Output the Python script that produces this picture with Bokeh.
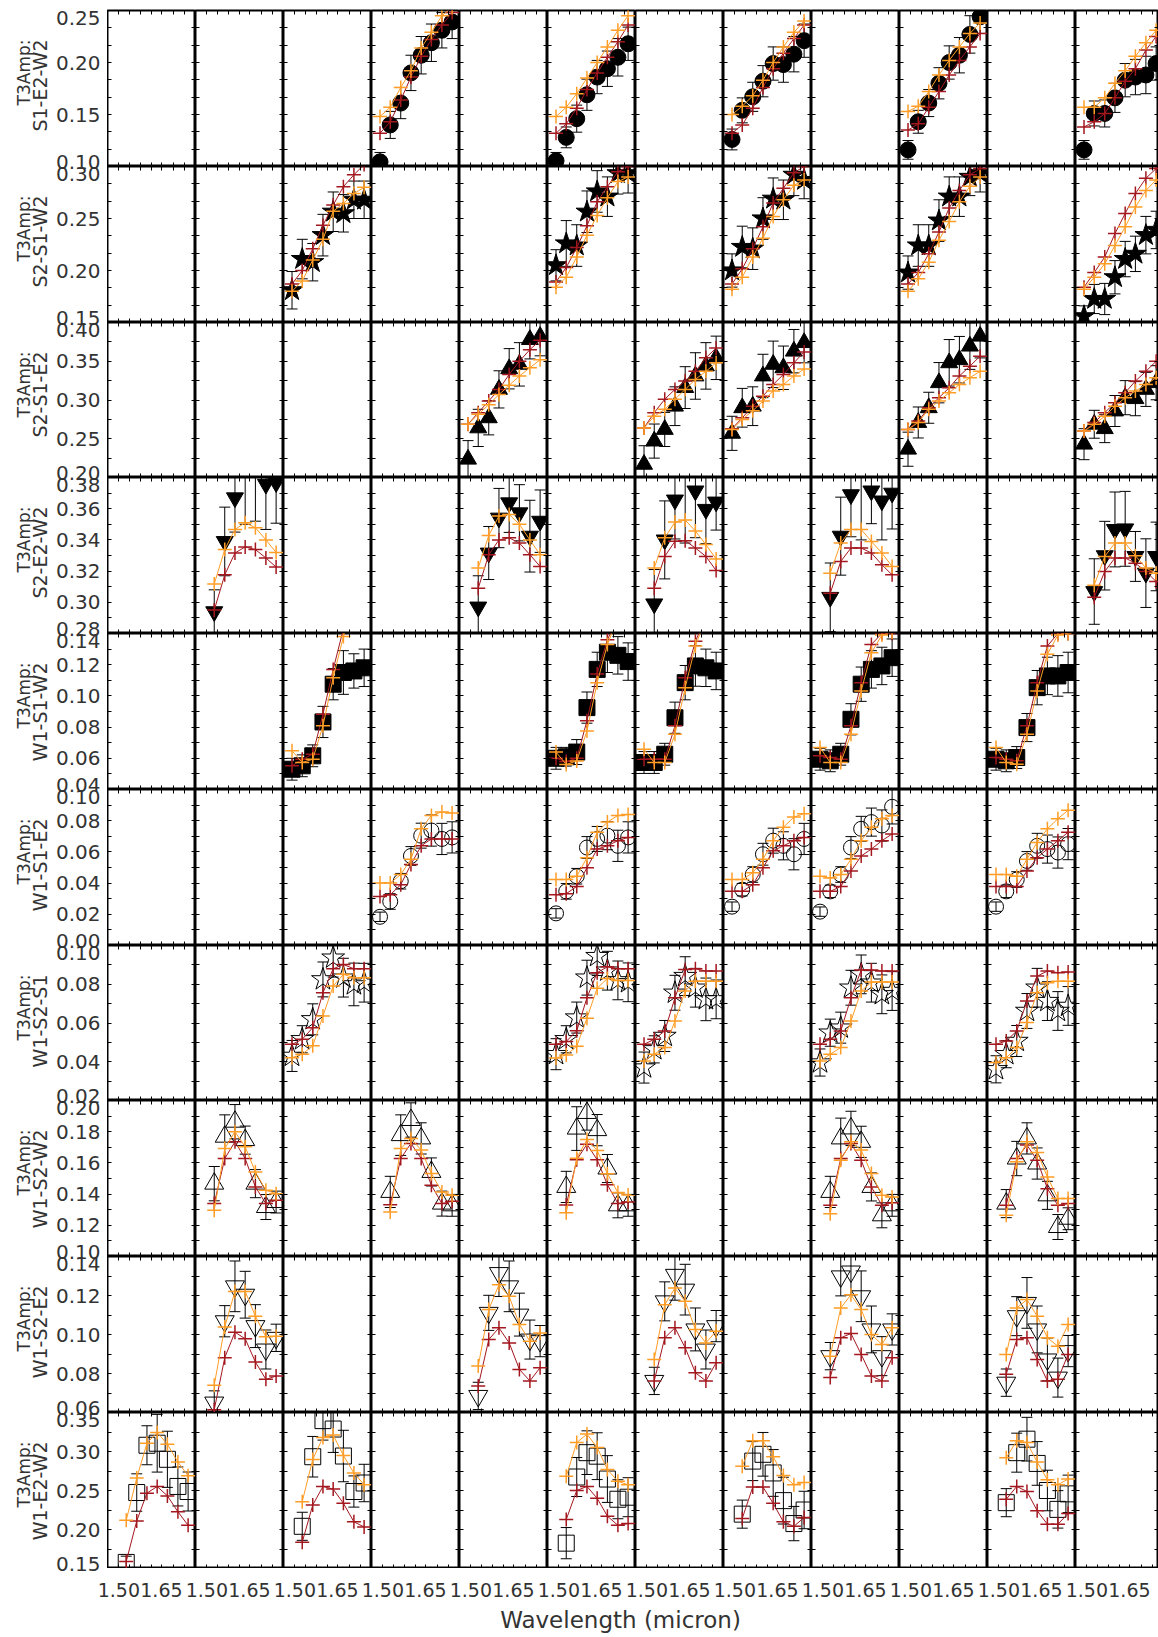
import math
from bokeh.plotting import figure
from bokeh.layouts import gridplot, column, row
from bokeh.models import (Range1d, FixedTicker, LinearAxis, PrintfTickFormatter, Label,
                          CustomLabelingPolicy)
from bokeh.core.properties import value
from bokeh.embed import file_html
from bokeh.resources import INLINE

# ---------------- data ----------------
WAVELENGTHS = [1.490, 1.526, 1.563, 1.599, 1.635, 1.671, 1.708, 1.744]
X_TICKS = [1.50, 1.65]
X_LIMITS = (1.46, 1.77)
N_COLS = 12

TRIANGLES = ["S1-E2-W2", "S2-S1-W2", "S2-S1-E2", "S2-E2-W2", "W1-S1-W2",
             "W1-S1-E2", "W1-S2-S1", "W1-S2-W2", "W1-S2-E2", "W1-E2-W2"]
Y_LIMITS = [(0.10, 0.25), (0.15, 0.30), (0.20, 0.40), (0.28, 0.38), (0.04, 0.14),
            (0.00, 0.10), (0.02, 0.10), (0.10, 0.20), (0.06, 0.14), (0.15, 0.35)]
Y_MAJOR = [[0.10, 0.15, 0.20, 0.25], [0.15, 0.20, 0.25, 0.30], [0.20, 0.25, 0.30, 0.35, 0.40],
           [0.28, 0.30, 0.32, 0.34, 0.36, 0.38], [0.04, 0.06, 0.08, 0.10, 0.12, 0.14],
           [0.00, 0.02, 0.04, 0.06, 0.08, 0.10], [0.02, 0.04, 0.06, 0.08, 0.10],
           [0.10, 0.12, 0.14, 0.16, 0.18, 0.20], [0.06, 0.08, 0.10, 0.12, 0.14],
           [0.15, 0.20, 0.25, 0.30, 0.35]]
Y_MINOR = [[0.1167, 0.1333, 0.1667, 0.1833, 0.2167, 0.2333],
           [0.1667, 0.1833, 0.2167, 0.2333, 0.2667, 0.2833],
           [0.225, 0.275, 0.325, 0.375],
           [0.29, 0.31, 0.33, 0.35, 0.37], [0.05, 0.07, 0.09, 0.11, 0.13],
           [0.01, 0.03, 0.05, 0.07, 0.09], [0.03, 0.05, 0.07, 0.09],
           [0.11, 0.13, 0.15, 0.17, 0.19], [0.07, 0.09, 0.11, 0.13],
           [0.175, 0.225, 0.275, 0.325]]

# Row 1: S1-E2-W2
R1_COLS = [4, 6, 8, 10, 12]
R1_START = 0
R1_OBS = [[0.1045, 0.140, 0.161, 0.190, 0.207, 0.219, 0.231, 0.239],
          [0.1055, 0.128, 0.146, 0.169, 0.186, 0.194, 0.205, 0.218],
          [0.126, 0.154, 0.167, 0.182, 0.199, 0.198, 0.208, 0.221],
          [0.116, 0.143, 0.161, 0.180, 0.200, 0.207, 0.227, 0.244],
          [0.116, 0.151, 0.151, 0.166, 0.183, 0.186, 0.188, 0.199]]
R1_ERR = [[0.009, 0.013, 0.015, 0.017, 0.018, 0.018, 0.017, 0.016],
          [0.008, 0.010, 0.013, 0.015, 0.016, 0.017, 0.018, 0.016],
          [0.010, 0.012, 0.014, 0.015, 0.016, 0.017, 0.017, 0.016],
          [0.009, 0.011, 0.013, 0.015, 0.016, 0.017, 0.018, 0.016],
          [0.009, 0.012, 0.013, 0.014, 0.016, 0.017, 0.018, 0.016]]
R1_ORANGE = [[0.148, 0.157, 0.176, 0.192, 0.214, 0.229, 0.245, 0.253],
             [0.148, 0.157, 0.170, 0.185, 0.200, 0.215, 0.231, 0.245],
             [0.150, 0.158, 0.168, 0.183, 0.200, 0.215, 0.229, 0.240],
             [0.153, 0.158, 0.172, 0.188, 0.202, 0.215, 0.228, 0.238],
             [0.157, 0.157, 0.166, 0.180, 0.192, 0.206, 0.219, 0.231]]
R1_RED = [[0.132, 0.143, 0.164, 0.186, 0.206, 0.222, 0.236, 0.248],
          [0.132, 0.141, 0.156, 0.174, 0.190, 0.205, 0.220, 0.236],
          [0.132, 0.140, 0.156, 0.176, 0.194, 0.209, 0.223, 0.236],
          [0.135, 0.141, 0.157, 0.172, 0.188, 0.202, 0.215, 0.228],
          [0.138, 0.143, 0.151, 0.166, 0.182, 0.194, 0.212, 0.225]]

# Row 2: S2-S1-W2
R2_COLS = [3, 6, 8, 10, 12]
R2_START = 0
R2_OBS = [[0.181, 0.211, 0.208, 0.234, 0.2565, 0.255, 0.268, 0.268],
          [0.205, 0.226, 0.224, 0.2565, 0.276, 0.271, 0.2935, 0.2935],
          [0.200, 0.2226, 0.221, 0.250, 0.269, 0.268, 0.292, 0.287],
          [0.198, 0.224, 0.224, 0.248, 0.271, 0.271, 0.290, 0.2935],
          [0.156, 0.1726, 0.1726, 0.1935, 0.211, 0.216, 0.234, 0.239]]
R2_ERR = [[0.018, 0.019, 0.018, 0.020, 0.019, 0.018, 0.018, 0.018],
          [0.015, 0.022, 0.020, 0.020, 0.020, 0.019, 0.020, 0.019],
          [0.016, 0.020, 0.020, 0.020, 0.020, 0.019, 0.020, 0.018],
          [0.016, 0.020, 0.020, 0.020, 0.019, 0.019, 0.018, 0.018],
          [0.010, 0.014, 0.015, 0.016, 0.017, 0.017, 0.018, 0.018]]
R2_ORANGE = [[0.180, 0.190, 0.210, 0.230, 0.257, 0.2645, 0.274, 0.280],
             [0.184, 0.1935, 0.213, 0.234, 0.253, 0.270, 0.2855, 0.290],
             [0.182, 0.1935, 0.213, 0.231, 0.252, 0.268, 0.282, 0.287],
             [0.180, 0.192, 0.208, 0.229, 0.247, 0.266, 0.281, 0.290],
             [0.182, 0.1935, 0.2065, 0.224, 0.242, 0.261, 0.277, 0.287]]
R2_RED = [[0.187, 0.200, 0.221, 0.2435, 0.263, 0.2806, 0.292, 0.302],
          [0.189, 0.203, 0.222, 0.243, 0.266, 0.2806, 0.295, 0.300],
          [0.187, 0.2016, 0.221, 0.242, 0.265, 0.279, 0.294, 0.300],
          [0.187, 0.198, 0.216, 0.237, 0.260, 0.277, 0.292, 0.298],
          [0.184, 0.198, 0.213, 0.2355, 0.2548, 0.274, 0.2887, 0.298]]

# Row 3: S2-S1-E2
R3_COLS = [5, 7, 8, 10, 12]
R3_START = 0
R3_OBS = [[0.2236, 0.264, 0.277, 0.3137, 0.3403, 0.346, 0.378, 0.382],
          [0.217, 0.247, 0.262, 0.292, 0.316, 0.331, 0.344, 0.3544],
          [0.257, 0.290, 0.292, 0.331, 0.346, 0.3416, 0.363, 0.374],
          [0.2365, 0.271, 0.290, 0.3223, 0.348, 0.352, 0.3695, 0.3823],
          [0.243, 0.2687, 0.263, 0.2858, 0.303, 0.3017, 0.3137, 0.3223]]
R3_ERR = [[0.024, 0.024, 0.022, 0.024, 0.026, 0.028, 0.025, 0.025],
          [0.024, 0.022, 0.022, 0.025, 0.027, 0.030, 0.030, 0.028],
          [0.022, 0.025, 0.025, 0.028, 0.030, 0.028, 0.028, 0.026],
          [0.022, 0.020, 0.020, 0.026, 0.030, 0.030, 0.030, 0.028],
          [0.020, 0.018, 0.018, 0.020, 0.022, 0.022, 0.022, 0.022]]
R3_ORANGE = [[0.2687, 0.2815, 0.294, 0.307, 0.319, 0.331, 0.3416, 0.352],
             [0.264, 0.279, 0.288, 0.301, 0.3137, 0.3266, 0.337, 0.348],
             [0.262, 0.275, 0.286, 0.2987, 0.3115, 0.320, 0.331, 0.340],
             [0.262, 0.271, 0.288, 0.2987, 0.3094, 0.320, 0.3287, 0.337],
             [0.260, 0.2687, 0.279, 0.292, 0.303, 0.3115, 0.320, 0.3287]]
R3_RED = [[0.2687, 0.2837, 0.2987, 0.3137, 0.333, 0.350, 0.365, 0.377],
          [0.264, 0.2837, 0.301, 0.3137, 0.3244, 0.337, 0.3544, 0.367],
          [0.263, 0.277, 0.292, 0.305, 0.320, 0.333, 0.348, 0.362],
          [0.262, 0.273, 0.290, 0.303, 0.3158, 0.331, 0.3437, 0.3566],
          [0.260, 0.271, 0.2837, 0.2965, 0.3094, 0.3244, 0.337, 0.350]]

# Row 4: S2-E2-W2
R4_COLS = [2, 5, 7, 9, 12]
R4_START = 1
R4_OBS = [[0.294, 0.339, 0.367, 0.392, 0.392, 0.3757, 0.3767],
          [0.297, 0.3316, 0.354, 0.3638, 0.3574, 0.3424, 0.352],
          [0.299, 0.340, 0.3656, 0.390, 0.3714, 0.3596, 0.3643],
          [0.3032, 0.3424, 0.369, 0.390, 0.3714, 0.365, 0.370],
          [0.3069, 0.3299, 0.3467, 0.3471, 0.3294, 0.3187, 0.3294]]
R4_ERR = [[0.014, 0.022, 0.022, 0.042, 0.040, 0.029, 0.026],
          [0.020, 0.017, 0.019, 0.019, 0.018, 0.023, 0.020],
          [0.022, 0.025, 0.025, 0.052, 0.030, 0.022, 0.018],
          [0.022, 0.025, 0.027, 0.050, 0.021, 0.025, 0.023],
          [0.021, 0.022, 0.024, 0.024, 0.016, 0.022, 0.022]]
R4_ORANGE = [[0.3118, 0.3338, 0.3467, 0.351, 0.3478, 0.340, 0.332],
             [0.322, 0.3428, 0.3553, 0.3563, 0.350, 0.340, 0.3305],
             [0.322, 0.3413, 0.3514, 0.3527, 0.3457, 0.337, 0.3278],
             [0.3187, 0.338, 0.3467, 0.3467, 0.339, 0.3316, 0.323],
             [0.311, 0.3294, 0.338, 0.338, 0.3299, 0.322, 0.3187]]
R4_RED = [[0.295, 0.3176, 0.3316, 0.3355, 0.3338, 0.3284, 0.3226],
          [0.309, 0.3305, 0.340, 0.3413, 0.338, 0.3305, 0.323],
          [0.309, 0.3294, 0.3391, 0.3395, 0.3348, 0.3294, 0.3204],
          [0.3058, 0.3262, 0.3348, 0.3348, 0.3316, 0.3241, 0.3176],
          [0.3032, 0.3198, 0.3284, 0.3284, 0.325, 0.3198, 0.3133]]

# Row 5: W1-S1-W2
R5_COLS = [3, 6, 7, 9, 11]
R5_START = 0
R5_OBS = [[0.053, 0.0552, 0.0616, 0.0833, 0.1075, 0.115, 0.116, 0.118],
          [0.060, 0.061, 0.064, 0.0925, 0.117, 0.128, 0.126, 0.122],
          [0.0573, 0.0573, 0.0626, 0.086, 0.1085, 0.1192, 0.118, 0.116],
          [0.0594, 0.0584, 0.0626, 0.085, 0.1075, 0.117, 0.1192, 0.1245],
          [0.0594, 0.0584, 0.0605, 0.0797, 0.1053, 0.1128, 0.1128, 0.115]]
R5_ERR = [[0.007, 0.007, 0.007, 0.010, 0.010, 0.014, 0.011, 0.012],
          [0.007, 0.006, 0.008, 0.010, 0.011, 0.013, 0.012, 0.012],
          [0.007, 0.007, 0.007, 0.010, 0.011, 0.013, 0.012, 0.012],
          [0.007, 0.007, 0.007, 0.010, 0.011, 0.012, 0.012, 0.012],
          [0.007, 0.007, 0.007, 0.009, 0.011, 0.012, 0.013, 0.013]]
R5_ORANGE = [[0.0648, 0.0573, 0.0594, 0.0808, 0.1117, 0.138, 0.158, 0.165],
             [0.064, 0.056, 0.0583, 0.0775, 0.1085, 0.133, 0.150, 0.155],
             [0.0658, 0.0573, 0.0573, 0.0754, 0.1053, 0.132, 0.150, 0.155],
             [0.0669, 0.0573, 0.0573, 0.0754, 0.1032, 0.1277, 0.139, 0.141],
             [0.0669, 0.0573, 0.0562, 0.0754, 0.1032, 0.1267, 0.139, 0.140]]
R5_RED = [[0.0552, 0.0594, 0.0626, 0.0883, 0.117, 0.143, 0.160, 0.166],
          [0.060, 0.058, 0.060, 0.084, 0.114, 0.136, 0.150, 0.160],
          [0.0594, 0.0594, 0.0594, 0.0808, 0.1117, 0.135, 0.150, 0.158],
          [0.0616, 0.0605, 0.0594, 0.0808, 0.1085, 0.133, 0.140, 0.140],
          [0.0605, 0.0594, 0.0584, 0.0808, 0.1085, 0.132, 0.140, 0.140]]

# Row 6: W1-S1-E2
R6_COLS = [4, 6, 8, 9, 11]
R6_START = 0
R6_OBS = [[0.0184, 0.0282, 0.0412, 0.0574, 0.0704, 0.0737, 0.0683, 0.0693],
          [0.0206, 0.0347, 0.0444, 0.0628, 0.0683, 0.0704, 0.0639, 0.0693],
          [0.0249, 0.0358, 0.0455, 0.0585, 0.0672, 0.0639, 0.0585, 0.0683],
          [0.0217, 0.0347, 0.0455, 0.0628, 0.0748, 0.0791, 0.0769, 0.0889],
          [0.0249, 0.0347, 0.0423, 0.0542, 0.0639, 0.0618, 0.0596, 0.065]]
R6_ERR = [[0.003, 0.005, 0.005, 0.006, 0.008, 0.010, 0.010, 0.010],
          [0.003, 0.005, 0.005, 0.007, 0.008, 0.009, 0.010, 0.010],
          [0.003, 0.004, 0.005, 0.007, 0.008, 0.009, 0.010, 0.010],
          [0.003, 0.004, 0.005, 0.007, 0.008, 0.009, 0.010, 0.011],
          [0.003, 0.004, 0.005, 0.006, 0.008, 0.009, 0.010, 0.010]]
R6_ORANGE = [[0.0401, 0.0401, 0.0455, 0.0553, 0.0748, 0.0834, 0.0856, 0.085],
             [0.0423, 0.0423, 0.0444, 0.0563, 0.0726, 0.0791, 0.0834, 0.0839],
             [0.0423, 0.0423, 0.0466, 0.0553, 0.0672, 0.0758, 0.0823, 0.0845],
             [0.0444, 0.0433, 0.0455, 0.0553, 0.0672, 0.0758, 0.0813, 0.0834],
             [0.0455, 0.0455, 0.0444, 0.0553, 0.0661, 0.0748, 0.0813, 0.0867]]
R6_RED = [[0.0314, 0.0325, 0.039, 0.052, 0.0639, 0.0683, 0.0683, 0.0683],
          [0.0325, 0.0332, 0.0379, 0.0498, 0.0618, 0.0639, 0.0672, 0.0693],
          [0.0347, 0.0347, 0.039, 0.0498, 0.0607, 0.0639, 0.0672, 0.0693],
          [0.0347, 0.0347, 0.0379, 0.0477, 0.0574, 0.0618, 0.0672, 0.0715],
          [0.0379, 0.0379, 0.0379, 0.0477, 0.0563, 0.0618, 0.0672, 0.0726]]

# Row 7: W1-S2-S1
R7_COLS = [3, 6, 7, 9, 11]
R7_START = 0
R7_OBS = [[0.043, 0.0516, 0.0619, 0.0825, 0.0937, 0.0834, 0.0799, 0.0808],
          [0.0439, 0.0516, 0.0628, 0.0834, 0.0945, 0.087, 0.082, 0.081],
          [0.037, 0.0464, 0.0533, 0.0756, 0.0842, 0.0782, 0.0722, 0.0722],
          [0.0396, 0.055, 0.0576, 0.0782, 0.0851, 0.0808, 0.0748, 0.0765],
          [0.0361, 0.0439, 0.0507, 0.0662, 0.0782, 0.0713, 0.0662, 0.0688]]
R7_ERR = [[0.008, 0.007, 0.008, 0.009, 0.010, 0.010, 0.011, 0.010],
          [0.008, 0.007, 0.008, 0.009, 0.010, 0.010, 0.010, 0.010],
          [0.008, 0.007, 0.008, 0.009, 0.010, 0.010, 0.011, 0.010],
          [0.007, 0.007, 0.008, 0.009, 0.010, 0.010, 0.010, 0.010],
          [0.007, 0.007, 0.008, 0.009, 0.010, 0.010, 0.010, 0.010]]
R7_ORANGE = [[0.0421, 0.0439, 0.0482, 0.0636, 0.0791, 0.0851, 0.0834, 0.0834],
             [0.042, 0.0435, 0.048, 0.0625, 0.078, 0.083, 0.082, 0.082],
             [0.0404, 0.0439, 0.0473, 0.061, 0.0765, 0.0816, 0.0816, 0.0816],
             [0.0404, 0.0439, 0.0473, 0.061, 0.0765, 0.0811, 0.0811, 0.0811],
             [0.0396, 0.0421, 0.0473, 0.0602, 0.0756, 0.0808, 0.0816, 0.0816]]
R7_RED = [[0.049, 0.0516, 0.0576, 0.0756, 0.088, 0.0902, 0.088, 0.088],
          [0.049, 0.0505, 0.056, 0.073, 0.086, 0.089, 0.088, 0.088],
          [0.049, 0.0516, 0.0559, 0.073, 0.0876, 0.088, 0.0868, 0.0868],
          [0.049, 0.0516, 0.0559, 0.073, 0.0873, 0.0873, 0.0868, 0.0868],
          [0.049, 0.0507, 0.0559, 0.0713, 0.0842, 0.0868, 0.086, 0.0863]]

# Row 8: W1-S2-W2
R8_COLS = [2, 4, 6, 9, 11]
R8_START = 1
R8_OBS = [[0.1467, 0.1768, 0.1864, 0.1746, 0.1467, 0.1317, 0.1349],
          [0.1414, 0.1778, 0.1875, 0.1757, 0.1542, 0.1339, 0.1328],
          [0.1446, 0.182, 0.192, 0.181, 0.1564, 0.1328, 0.1328],
          [0.1414, 0.1757, 0.1821, 0.1735, 0.1446, 0.1264, 0.1328],
          [0.1339, 0.1628, 0.1757, 0.1596, 0.1392, 0.1189, 0.1242]]
R8_ERR = [[0.011, 0.014, 0.011, 0.009, 0.009, 0.008, 0.007],
          [0.010, 0.013, 0.011, 0.010, 0.009, 0.008, 0.007],
          [0.010, 0.014, 0.011, 0.010, 0.009, 0.008, 0.007],
          [0.010, 0.013, 0.011, 0.010, 0.009, 0.008, 0.007],
          [0.009, 0.011, 0.010, 0.010, 0.009, 0.008, 0.007]]
R8_ORANGE = [[0.1296, 0.1692, 0.180, 0.1703, 0.1542, 0.1424, 0.1403],
             [0.1285, 0.1692, 0.1757, 0.1682, 0.1532, 0.1414, 0.1392],
             [0.128, 0.163, 0.175, 0.168, 0.153, 0.141, 0.1395],
             [0.1274, 0.1617, 0.1735, 0.1682, 0.1532, 0.1392, 0.1382],
             [0.1264, 0.1607, 0.1735, 0.1667, 0.151, 0.1371, 0.1371]]
R8_RED = [[0.1339, 0.1628, 0.1735, 0.1628, 0.1446, 0.1339, 0.136],
          [0.1332, 0.1628, 0.1725, 0.1628, 0.1457, 0.1339, 0.1354],
          [0.133, 0.162, 0.172, 0.162, 0.146, 0.134, 0.135],
          [0.1328, 0.1628, 0.1725, 0.1617, 0.1446, 0.1328, 0.1345],
          [0.1328, 0.1628, 0.1714, 0.1617, 0.1435, 0.1328, 0.1339]]

# Row 9: W1-S2-E2
R9_COLS = [2, 5, 7, 9, 11]
R9_START = 1
R9_OBS = [[0.0651, 0.1068, 0.1247, 0.1204, 0.1043, 0.0923, 0.0983],
          [0.0685, 0.1111, 0.1315, 0.1247, 0.1102, 0.0974, 0.0966],
          [0.0762, 0.117, 0.1306, 0.123, 0.1026, 0.0923, 0.1043],
          [0.0889, 0.1298, 0.1323, 0.1196, 0.1026, 0.0889, 0.1026],
          [0.0753, 0.1094, 0.1162, 0.1026, 0.0872, 0.0779, 0.0915]]
R9_ERR = [[0.006, 0.008, 0.013, 0.012, 0.011, 0.010, 0.007],
          [0.007, 0.009, 0.012, 0.013, 0.011, 0.010, 0.008],
          [0.007, 0.010, 0.013, 0.013, 0.011, 0.010, 0.008],
          [0.007, 0.010, 0.012, 0.013, 0.012, 0.010, 0.008],
          [0.007, 0.010, 0.013, 0.012, 0.011, 0.010, 0.008]]
R9_ORANGE = [[0.074, 0.1039, 0.1221, 0.1221, 0.1094, 0.0988, 0.0991],
             [0.0838, 0.1128, 0.1255, 0.1196, 0.1051, 0.0966, 0.1008],
             [0.0872, 0.1153, 0.1238, 0.117, 0.1026, 0.0957, 0.1017],
             [0.0889, 0.1136, 0.1204, 0.1128, 0.100, 0.0949, 0.1034],
             [0.0898, 0.1136, 0.1179, 0.1094, 0.0983, 0.094, 0.1051]]
R9_RED = [[0.0614, 0.0881, 0.1012, 0.0978, 0.0859, 0.077, 0.0787],
          [0.0736, 0.0974, 0.1034, 0.0957, 0.0821, 0.0762, 0.083],
          [0.0762, 0.0983, 0.1034, 0.0932, 0.0804, 0.0762, 0.0855],
          [0.0779, 0.0983, 0.1005, 0.0898, 0.0787, 0.0762, 0.0881],
          [0.0796, 0.0974, 0.0983, 0.0872, 0.0762, 0.077, 0.0898]]

# Row 10: W1-E2-W2
R10_COLS = [1, 3, 6, 8, 11]
R10_START = 1
R10_OBS = [[0.1578, 0.2474, 0.308, 0.3106, 0.290, 0.2552, 0.2487],
           [0.2041, 0.2933, 0.3396, 0.3288, 0.2942, 0.2487, 0.2596],
           [0.1825, 0.2673, 0.2985, 0.294, 0.2647, 0.2388, 0.2414],
           [0.2197, 0.2877, 0.2964, 0.2725, 0.237, 0.2076, 0.225],
           [0.2344, 0.2985, 0.3158, 0.2847, 0.250, 0.2258, 0.2457]]
R10_ERR = [[0.008, 0.024, 0.025, 0.037, 0.036, 0.025, 0.025],
           [0.018, 0.026, 0.025, 0.030, 0.033, 0.020, 0.024],
           [0.020, 0.025, 0.028, 0.030, 0.030, 0.025, 0.025],
           [0.018, 0.025, 0.028, 0.030, 0.030, 0.022, 0.024],
           [0.018, 0.025, 0.028, 0.028, 0.026, 0.024, 0.024]]
R10_ORANGE = [[0.2119, 0.266, 0.3106, 0.3245, 0.3093, 0.2864, 0.269],
              [0.2357, 0.2899, 0.318, 0.321, 0.295, 0.2725, 0.2574],
              [0.2682, 0.3115, 0.3223, 0.305, 0.2769, 0.2617, 0.2574],
              [0.2812, 0.3137, 0.3137, 0.2933, 0.2691, 0.2574, 0.2604],
              [0.292, 0.3137, 0.3115, 0.2864, 0.2639, 0.2574, 0.2647]]
R10_RED = [[0.159, 0.211, 0.2466, 0.2552, 0.2431, 0.2227, 0.2054],
           [0.1838, 0.2314, 0.2552, 0.2518, 0.2336, 0.2098, 0.2033],
           [0.2128, 0.25, 0.2552, 0.240, 0.2171, 0.2054, 0.2076],
           [0.2141, 0.2544, 0.2544, 0.2336, 0.2098, 0.2041, 0.2154],
           [0.2388, 0.2552, 0.2487, 0.224, 0.2067, 0.2067, 0.2206]]

ROWS = [
    (R1_COLS, R1_START, R1_OBS, R1_ERR, R1_ORANGE, R1_RED),
    (R2_COLS, R2_START, R2_OBS, R2_ERR, R2_ORANGE, R2_RED),
    (R3_COLS, R3_START, R3_OBS, R3_ERR, R3_ORANGE, R3_RED),
    (R4_COLS, R4_START, R4_OBS, R4_ERR, R4_ORANGE, R4_RED),
    (R5_COLS, R5_START, R5_OBS, R5_ERR, R5_ORANGE, R5_RED),
    (R6_COLS, R6_START, R6_OBS, R6_ERR, R6_ORANGE, R6_RED),
    (R7_COLS, R7_START, R7_OBS, R7_ERR, R7_ORANGE, R7_RED),
    (R8_COLS, R8_START, R8_OBS, R8_ERR, R8_ORANGE, R8_RED),
    (R9_COLS, R9_START, R9_OBS, R9_ERR, R9_ORANGE, R9_RED),
    (R10_COLS, R10_START, R10_OBS, R10_ERR, R10_ORANGE, R10_RED),
]

# ---------------- style ----------------
MARKERS = ["circle", "star", "triangle", "inverted_triangle", "square",
           "circle", "star", "triangle", "inverted_triangle", "square"]
FILLED = [True] * 5 + [False] * 5
SIZES = [16, 23, 17, 17, 16, 15, 24, 19, 19, 16]
ORANGE = "#FF9D26"
DARKRED = "#A3171F"
TXT = "#333333"
FONT = "DejaVu Sans"
YTICK_FONT_SIZE = "20px"
XTICK_FONT_SIZE = "19px"
PAGE_W = 1158
PAGE_H = 1637
FRAME_W = 88
LAST_W = 83
ROW_H = [156, 156, 155, 156, 156, 156, 155, 156, 156, 156]
LEFT_W = 107
TOP_BORDER = 10
LABEL_FIG_H = 1576
TOP_LABEL_SHIFT = 7      # IDL pushes the end labels of each axis inwards
BOTTOM_LABEL_SHIFT = 4.5
TITLE_END_OFFSET = 29    # row titles end (top) this far below the row top
XLABEL_CENTER = 1589     # page y of the x tick label centres
XTITLE_CENTER = 1619     # page y of the x axis title centre

x_span = X_LIMITS[1] - X_LIMITS[0]
X_MINOR = [X_LIMITS[0] + k * x_span / 8 for k in (2, 3, 4, 6, 7)]

NO_LABELS = CustomLabelingPolicy(code="return []")


def make_axis(ticker):
    ax = LinearAxis(ticker=ticker, formatter=PrintfTickFormatter(format="%.2f"),
                    axis_line_color=None,
                    major_tick_in=4, major_tick_out=0, minor_tick_in=4, minor_tick_out=0,
                    major_tick_line_color="black", minor_tick_line_color="black",
                    major_tick_line_width=1, minor_tick_line_width=1,
                    major_label_policy=NO_LABELS,
                    major_label_text_font_size="0px", major_label_standoff=0)
    return ax


def make_panel(r, c):
    last = (c == N_COLS - 1)
    fw = LAST_W if last else FRAME_W
    x_end = X_LIMITS[0] + x_span * fw / FRAME_W
    p = figure(frame_width=fw, frame_height=ROW_H[r],
               x_range=Range1d(X_LIMITS[0], x_end),
               y_range=Range1d(*Y_LIMITS[r]),
               output_backend="svg", toolbar_location=None, tools="",
               x_axis_location=None, y_axis_location=None,
               min_border_left=0, min_border_right=0,
               min_border_top=TOP_BORDER if r == 0 else 0,
               min_border_bottom=0,
               outline_line_color="black", outline_line_width=2,
               border_fill_color="white", background_fill_color="white")
    p.grid.grid_line_color = None

    yt = FixedTicker(ticks=Y_MAJOR[r], minor_ticks=Y_MINOR[r])
    xt = FixedTicker(ticks=X_TICKS, minor_ticks=X_MINOR)
    p.add_layout(make_axis(yt), "left")
    p.add_layout(make_axis(yt), "right")
    p.add_layout(make_axis(xt), "above")
    p.add_layout(make_axis(xt), "below")

    cols, start, obs_l, err_l, orange_l, red_l = ROWS[r]
    if (c + 1) in cols:
        k = cols.index(c + 1)
        obs = obs_l[k]
        err = err_l[k]
        x = WAVELENGTHS[start:start + len(obs)]
        lower = [o - e for o, e in zip(obs, err)]
        upper = [o + e for o, e in zip(obs, err)]
        p.segment(x0=x, y0=lower, x1=x, y1=upper, line_color="black", line_width=1)
        p.scatter(x=x + x, y=lower + upper, marker="dash", size=11,
                  line_color="black", line_width=1)
        p.scatter(x=x, y=obs, marker=MARKERS[r], size=SIZES[r],
                  fill_color="black" if FILLED[r] else None,
                  line_color="black", line_width=1)
        red = red_l[k]
        orange = orange_l[k]
        p.line(x=x, y=red, line_color=DARKRED, line_width=1)
        p.scatter(x=x, y=red, marker="cross", size=14, line_color=DARKRED, line_width=1.5)
        p.line(x=x, y=orange, line_color=ORANGE, line_width=1)
        p.scatter(x=x, y=orange, marker="cross", size=14, line_color=ORANGE, line_width=1.5)
    return p


grid_children = [[make_panel(r, c) for c in range(N_COLS)] for r in range(len(TRIANGLES))]
grid = gridplot(grid_children, toolbar_location=None)

# ---- left strip: y tick labels and row titles (one canvas, so labels at row joins overlap) ----
label_fig = figure(width=LEFT_W, height=LABEL_FIG_H, output_backend="svg",
                   toolbar_location=None, tools="", x_axis_location=None, y_axis_location=None,
                   outline_line_color=None, min_border=0,
                   x_range=Range1d(0, LEFT_W), y_range=Range1d(0, LABEL_FIG_H))
label_fig.grid.grid_line_color = None
tl_x, tl_y, tl_text = [], [], []
t_y, t2_text = [], []
row_top = TOP_BORDER
for r in range(len(TRIANGLES)):
    lo, hi = Y_LIMITS[r]
    for v in Y_MAJOR[r]:
        px = row_top + (hi - v) / (hi - lo) * ROW_H[r]
        if abs(v - hi) < 1e-9:
            px += TOP_LABEL_SHIFT
        elif abs(v - lo) < 1e-9:
            px -= BOTTOM_LABEL_SHIFT
        tl_x.append(100)
        tl_y.append(LABEL_FIG_H - px)
        tl_text.append("%.2f" % v)
    t_y.append(LABEL_FIG_H - (row_top + TITLE_END_OFFSET))
    t2_text.append(TRIANGLES[r])
    row_top += ROW_H[r]
label_fig.text(x=tl_x, y=tl_y, text=tl_text, text_align="right", text_baseline="middle",
               text_font=value(FONT), text_font_size=YTICK_FONT_SIZE, text_color=TXT)
label_fig.text(x=[23] * len(t_y), y=t_y, text=["T3Amp:"] * len(t_y), angle=math.pi / 2,
               text_align="right", text_baseline="middle",
               text_font=value(FONT), text_font_size="17px", text_color=TXT)
label_fig.text(x=[39] * len(t_y), y=t_y, text=t2_text, angle=math.pi / 2,
               text_align="right", text_baseline="middle",
               text_font=value(FONT), text_font_size="19px", text_color=TXT)

# ---- bottom strip: x tick labels of every column and the x axis title ----
bottom_h = PAGE_H - LABEL_FIG_H
bottom_fig = figure(width=PAGE_W, height=bottom_h, output_backend="svg",
                    toolbar_location=None, tools="", x_axis_location=None, y_axis_location=None,
                    outline_line_color=None, min_border=0,
                    x_range=Range1d(0, PAGE_W), y_range=Range1d(0, bottom_h))
bottom_fig.grid.grid_line_color = None
xl_x, xl_text = [], []
for c in range(N_COLS):
    col_left = LEFT_W + c * FRAME_W
    for t in X_TICKS:
        xl_x.append(col_left + (t - X_LIMITS[0]) / x_span * FRAME_W)
        xl_text.append("%.2f" % t)
bottom_fig.text(x=xl_x, y=[PAGE_H - XLABEL_CENTER] * len(xl_x), text=xl_text,
                text_align="center", text_baseline="middle",
                text_font=value(FONT), text_font_size=XTICK_FONT_SIZE, text_color=TXT)
bottom_fig.add_layout(Label(x=620, y=PAGE_H - XTITLE_CENTER, x_units="screen", y_units="screen",
                            text="Wavelength (micron)", text_align="center",
                            text_baseline="middle", text_font=FONT,
                            text_font_size="23px", text_color=TXT))

layout = column(row(label_fig, grid), bottom_fig)
open("out.html", "w").write(file_html(layout, INLINE))
